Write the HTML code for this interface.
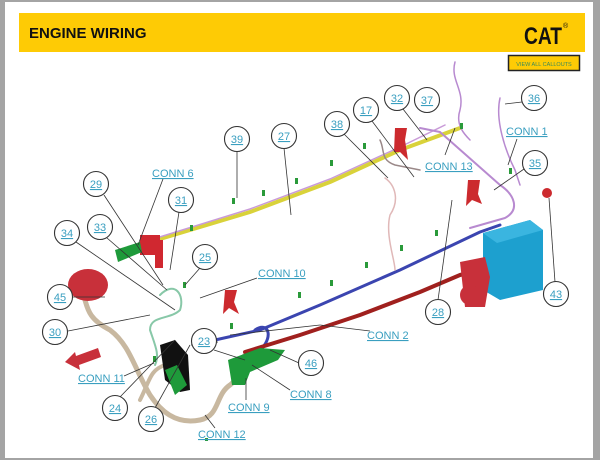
<!DOCTYPE html>
<html><head><meta charset="utf-8">
<style>
html,body{margin:0;padding:0;width:600px;height:460px;overflow:hidden;background:#a4a4a4;}
svg{display:block}
</style></head>
<body>
<svg width="600" height="460" viewBox="0 0 600 460" xmlns="http://www.w3.org/2000/svg" font-family="Liberation Sans, Arial, sans-serif">
<rect x="0" y="0" width="600" height="460" fill="#a4a4a4"/>
<rect x="5" y="2" width="588" height="456" fill="#ffffff"/>
<!-- header -->
<rect x="19" y="13" width="566" height="39" fill="#fecb05"/>
<text x="29" y="38" font-size="15" font-weight="bold" fill="#111">ENGINE WIRING</text>
<text x="524" y="44" font-size="24" font-weight="bold" fill="#111" textLength="38" lengthAdjust="spacingAndGlyphs">CAT</text>
<text x="563" y="28" font-size="7" fill="#111">®</text>
<rect x="508.5" y="55.5" width="71" height="15" fill="#fecb05" stroke="#222" stroke-width="1.5"/>
<text x="544" y="66" font-size="5.5" fill="#3a8a5a" text-anchor="middle">VIEW ALL CALLOUTS</text>

<!-- harnesses -->
<g fill="none" stroke-linecap="round" stroke-linejoin="round">
<!-- tan -->
<path d="M78,285 C90,300 80,315 110,330 C130,345 135,370 150,395 C160,410 175,425 200,420 C220,416 215,395 230,385 C240,378 240,360 245,355" stroke="#c8b8a0" stroke-width="5"/>
<path d="M140,400 C150,380 150,370 165,365" stroke="#c8b8a0" stroke-width="4"/>
<!-- yellow -->
<path d="M150,242 L250,212 L330,182 L400,150 L460,128" stroke="#d9d23a" stroke-width="4"/>
<path d="M150,240 L250,209 L330,179 L400,147 L445,125" stroke="#c99bd8" stroke-width="1.5"/>
<!-- purple loop right -->
<path d="M420,128 L440,132 L500,185 C515,195 520,210 505,218 L470,228" stroke="#b88ad0" stroke-width="2"/>
<path d="M455,62 C450,80 465,90 460,110 C455,125 465,135 470,140" stroke="#b88ad0" stroke-width="1.5"/>
<path d="M500,98 C495,120 505,150 515,170 L520,185" stroke="#b88ad0" stroke-width="1.5"/>
<!-- blue -->
<path d="M215,340 L260,330 L320,305 L400,270 L480,232 L500,225" stroke="#3b45b0" stroke-width="3"/>
<path d="M255,330 C270,320 275,340 255,355 L245,360" stroke="#3b45b0" stroke-width="3"/>
<!-- dark red -->
<path d="M245,352 L300,335 L360,315 L420,292 L460,275 L480,270" stroke="#a0201e" stroke-width="4"/>
<!-- light green / teal -->
<path d="M160,295 C175,280 185,295 180,310 C170,320 150,315 150,330 C155,345 160,355 155,365" stroke="#88c8a8" stroke-width="2"/>
<!-- pink thin -->
<path d="M385,178 C395,185 400,200 390,215 C385,235 395,260 395,270" stroke="#e0b8b8" stroke-width="1.5"/>
<path d="M380,140 C385,150 380,160 395,165 L420,170" stroke="#9a8888" stroke-width="1.5"/>
</g>

<!-- components -->
<g>
<!-- blue box -->
<polygon points="483,233 530,220 543,230 543,290 500,300 483,290" fill="#1da0cf"/>
<polygon points="483,233 530,220 543,230 497,243" fill="#3ab5e0"/>
<!-- red components -->
<ellipse cx="88" cy="285" rx="20" ry="16" fill="#c8303a"/>
<rect x="140" y="235" width="20" height="20" fill="#d02830"/>
<rect x="155" y="240" width="8" height="28" fill="#d02830"/>
<path d="M115,250 L140,242 L142,252 L118,262 Z" fill="#1e9a3a"/>
<path d="M225,290 l12,0 l-3,12 l5,12 l-10,-6 l-6,6 z" fill="#cc2a2e"/>
<path d="M395,128 l12,0 l-2,12 l3,20 l-8,-8 l-6,0 z" fill="#cc2a2e"/>
<path d="M468,180 l12,0 l-2,14 l4,10 l-10,-4 l-6,6 z" fill="#cc2a2e"/>
<circle cx="547" cy="193" r="5" fill="#cc2a2e"/>
<path d="M460,262 l25,-5 l5,20 l-5,30 l-20,0 z" fill="#c8303a"/>
<circle cx="470" cy="295" r="10" fill="#c8303a"/>
<!-- black block -->
<path d="M160,345 L175,340 L188,355 L190,390 L180,392 L165,380 Z" fill="#111"/>
<path d="M165,370 l12,-5 l10,20 l-12,10 z" fill="#1e9a3a"/>
<!-- green connectors -->
<path d="M228,360 L260,348 L285,350 L278,360 L250,372 L245,385 L232,385 Z" fill="#1e9a3a"/>
<!-- arrow -->
<path d="M65,362 L75,352 L76,356 L98,348 L101,357 L79,365 L80,370 Z" fill="#c8303a"/>
<!-- small green nubs -->
<g fill="#2a9a3a">
<rect x="190" y="225" width="3" height="6"/><rect x="232" y="198" width="3" height="6"/><rect x="262" y="190" width="3" height="6"/>
<rect x="295" y="178" width="3" height="6"/><rect x="330" y="160" width="3" height="6"/><rect x="363" y="143" width="3" height="6"/>
<rect x="460" y="123" width="3" height="6"/><rect x="509" y="168" width="3" height="6"/><rect x="298" y="292" width="3" height="6"/>
<rect x="330" y="280" width="3" height="6"/><rect x="365" y="262" width="3" height="6"/><rect x="400" y="245" width="3" height="6"/>
<rect x="435" y="230" width="3" height="6"/><rect x="205" y="438" width="3" height="3"/><rect x="230" y="323" width="3" height="6"/>
<rect x="183" y="282" width="3" height="6"/><rect x="153" y="356" width="3" height="6"/>
</g>
</g>

<!-- leader lines -->
<g stroke="#333" stroke-width="0.8" fill="none">
<line x1="237" y1="151" x2="237" y2="198"/>
<line x1="284" y1="148" x2="291" y2="215"/>
<line x1="344" y1="134" x2="388" y2="178"/>
<line x1="372" y1="121" x2="414" y2="177"/>
<line x1="403" y1="109" x2="427" y2="140"/>
<line x1="445" y1="155" x2="455" y2="128"/>
<line x1="522" y1="102" x2="505" y2="104"/>
<line x1="517" y1="139" x2="508" y2="165"/>
<line x1="524" y1="169" x2="494" y2="190"/>
<line x1="438" y1="300" x2="452" y2="200"/>
<line x1="555" y1="282" x2="549" y2="198"/>
<line x1="163" y1="179" x2="138" y2="245"/>
<line x1="104" y1="195" x2="163" y2="285"/>
<line x1="179" y1="212" x2="170" y2="270"/>
<line x1="107" y1="238" x2="167" y2="290"/>
<line x1="76" y1="242" x2="175" y2="310"/>
<line x1="200" y1="268" x2="185" y2="285"/>
<line x1="72" y1="297" x2="105" y2="297"/>
<line x1="68" y1="331" x2="150" y2="315"/>
<line x1="257" y1="278" x2="200" y2="298"/>
<line x1="370" y1="331" x2="320" y2="325"/>
<line x1="320" y1="325" x2="230" y2="335"/>
<line x1="191" y1="345" x2="218" y2="342"/>
<line x1="214" y1="350" x2="245" y2="360"/>
<line x1="299" y1="363" x2="270" y2="350"/>
<line x1="290" y1="390" x2="252" y2="365"/>
<line x1="246" y1="400" x2="246" y2="378"/>
<line x1="124" y1="376" x2="154" y2="363"/>
<line x1="120" y1="397" x2="175" y2="340"/>
<line x1="155" y1="408" x2="190" y2="345"/>
<line x1="215" y1="428" x2="205" y2="415"/>
</g>

<!-- callouts -->
<g fill="#ffffff" stroke="#333" stroke-width="1.1">
<circle cx="237" cy="139" r="12.5"/><circle cx="284" cy="136" r="12.5"/><circle cx="337" cy="124" r="12.5"/>
<circle cx="366" cy="110" r="12.5"/><circle cx="397" cy="98" r="12.5"/><circle cx="427" cy="100" r="12.5"/>
<circle cx="534" cy="98" r="12.5"/><circle cx="535" cy="163" r="12.5"/><circle cx="96" cy="184" r="12.5"/>
<circle cx="181" cy="200" r="12.5"/><circle cx="100" cy="227" r="12.5"/><circle cx="67" cy="233" r="12.5"/>
<circle cx="205" cy="257" r="12.5"/><circle cx="60" cy="297" r="12.5"/><circle cx="55" cy="332" r="12.5"/>
<circle cx="204" cy="341" r="12.5"/><circle cx="311" cy="363" r="12.5"/><circle cx="115" cy="408" r="12.5"/>
<circle cx="151" cy="419" r="12.5"/><circle cx="438" cy="312" r="12.5"/><circle cx="556" cy="294" r="12.5"/>
</g>
<g fill="#3a9fc0" font-size="11" text-anchor="middle" text-decoration="underline">
<text x="237" y="143">39</text><text x="284" y="140">27</text><text x="337" y="128">38</text>
<text x="366" y="114">17</text><text x="397" y="102">32</text><text x="427" y="104">37</text>
<text x="534" y="102">36</text><text x="535" y="167">35</text><text x="96" y="188">29</text>
<text x="181" y="204">31</text><text x="100" y="231">33</text><text x="67" y="237">34</text>
<text x="205" y="261">25</text><text x="60" y="301">45</text><text x="55" y="336">30</text>
<text x="204" y="345">23</text><text x="311" y="367">46</text><text x="115" y="412">24</text>
<text x="151" y="423">26</text><text x="438" y="316">28</text><text x="556" y="298">43</text>
</g>
<g fill="#3a9fc0" font-size="11" text-decoration="underline">
<text x="152" y="177">CONN 6</text>
<text x="425" y="170">CONN 13</text>
<text x="506" y="135">CONN 1</text>
<text x="258" y="277">CONN 10</text>
<text x="367" y="339">CONN 2</text>
<text x="78" y="382">CONN 11</text>
<text x="290" y="398">CONN 8</text>
<text x="228" y="411">CONN 9</text>
<text x="198" y="438">CONN 12</text>
</g>
</svg>
</body></html>
